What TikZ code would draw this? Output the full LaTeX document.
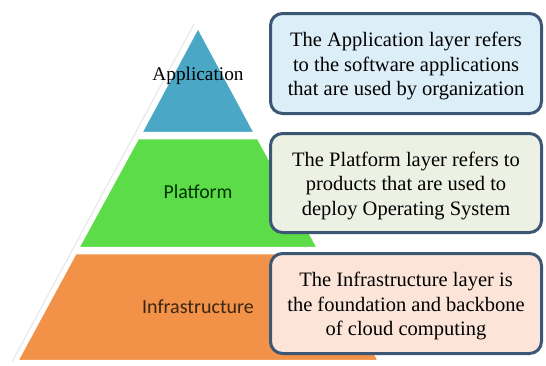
\documentclass[tikz,border=0pt]{standalone}
\usepackage{fontspec}
\setmainfont{Liberation Serif}
\newfontfamily\boxfont{Liberation Serif}
\newfontfamily\labelfont{Carlito}

\definecolor{appblue}{HTML}{4AA8C6}
\definecolor{platgreen}{HTML}{5CDC48}
\definecolor{infraorange}{HTML}{F29148}
\definecolor{boxline}{HTML}{3C5773}
\definecolor{appfill}{HTML}{DCEEF8}
\definecolor{platfill}{HTML}{EDF1E4}
\definecolor{infrafill}{HTML}{FCE5D8}

\newcommand{\topstrut}{\rule{0pt}{20pt}}

\tikzset{
    layer/.style={draw=white, line width=2.5pt, line join=round},
    infobox/.style={draw=boxline, line width=3pt, rounded corners=12pt,
        minimum width=271pt, align=center, inner sep=2pt,
        font=\boxfont\fontsize{20.5}{24.5}\selectfont},
    layerlabel/.style={anchor=base}
}

\begin{document}
\begin{tikzpicture}[x=1pt,y=-1pt]
        \useasboundingbox (0,0) rectangle (546,365);

        % Shadow of the pyramid
        \draw[gray!20, line width=1pt] (194,24) -- (12,362);

        % Layers
        \fill[appblue, layer] (198,27) -- (255,133) -- (141,133) -- cycle;
        \fill[platgreen, layer] (138,138) -- (258,138) -- (318,248) -- (78,248) -- cycle;
        \fill[infraorange, layer] (75.5,253) -- (320.5,253) -- (379,361) -- (17,361) -- cycle;

        % Layer names
        \node[layerlabel, font=\boxfont\fontsize{19.3}{23}\selectfont] (app) at (198,80) {Application};
        \node[layerlabel, text=green!20!black, font=\labelfont\fontsize{19.8}{24}\selectfont] (plat) at (198,198) {Platform};
        \node[layerlabel, text=brown!30!black, font=\labelfont\fontsize{20}{24}\selectfont] (infra) at (198,313) {Infrastructure};

        % Boxes
        \node[infobox, fill=appfill, minimum height=100pt] (appbox) at (406,63.5)
            {\topstrut The Application layer refers\\to the software applications\\that are used by organization};
        \node[infobox, fill=platfill, minimum height=99pt] (platbox) at (406,183)
            {\topstrut The Platform layer refers to\\products that are used to\\deploy Operating System};
        \node[infobox, fill=infrafill, minimum height=100pt] (infrabox) at (406,303.5)
            {\topstrut The Infrastructure layer is\\the foundation and backbone\\of cloud computing};
    \end{tikzpicture}
\end{document}
